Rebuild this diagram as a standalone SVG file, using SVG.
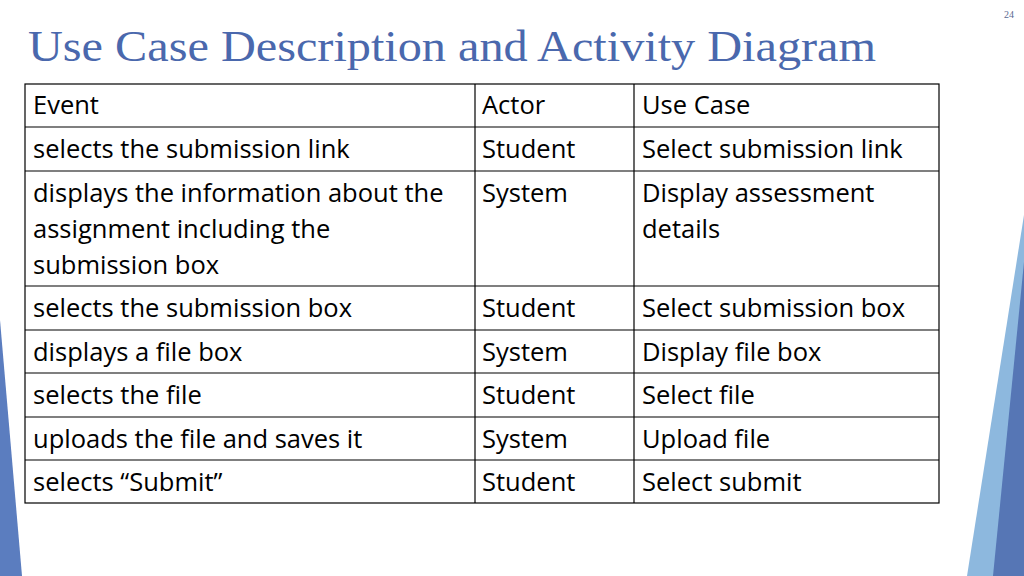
<svg xmlns="http://www.w3.org/2000/svg" width="1024" height="576" viewBox="0 0 1024 576">
<style>
.t{font-family:"Open Sans","Liberation Sans",sans-serif;font-size:25.5px;fill:#000}
.g line{stroke:#000;stroke-width:1.2}
</style>
<rect width="1024" height="576" fill="#fff"/>
<polygon points="0,320 22,576 0,576" fill="#5b7dbf"/>
<polygon points="1024,215 1024,576 967,576" fill="#8db8de"/>
<polygon points="1024,262 1024,576 993,576" fill="#5676b5"/>
<text x="1014" y="18" font-family="Liberation Serif,serif" font-size="10" fill="#5a6a90" text-anchor="end">24</text>
<text x="28" y="61" font-family="Liberation Serif,serif" font-size="44" fill="#4a68ad" textLength="848" lengthAdjust="spacingAndGlyphs">Use Case Description and Activity Diagram</text>
<g id="table" class="g">
<rect x="25" y="84" width="914" height="419" fill="none" stroke="#000" stroke-width="1.2"/>
<line x1="475" y1="84" x2="475" y2="503"/><line x1="634" y1="84" x2="634" y2="503"/>
<line x1="25" y1="127" x2="939" y2="127"/><line x1="25" y1="171" x2="939" y2="171"/>
<line x1="25" y1="286" x2="939" y2="286"/><line x1="25" y1="330" x2="939" y2="330"/>
<line x1="25" y1="373" x2="939" y2="373"/><line x1="25" y1="417" x2="939" y2="417"/>
<line x1="25" y1="460" x2="939" y2="460"/>
</g>
<g id="text" class="t">
<text x="33" y="114" class="t">Event</text><text x="482" y="114" class="t">Actor</text><text x="642" y="114" class="t">Use Case</text>
<text x="33" y="158" class="t">selects the submission link</text><text x="482" y="158" class="t">Student</text><text x="642" y="158" class="t">Select submission link</text>
<text x="33" y="202" class="t">displays the information about the</text><text x="33" y="238" class="t">assignment including the</text><text x="33" y="274" class="t">submission box</text>
<text x="482" y="202" class="t">System</text><text x="642" y="202" class="t">Display assessment</text><text x="642" y="238" class="t">details</text>
<text x="33" y="317" class="t">selects the submission box</text><text x="482" y="317" class="t">Student</text><text x="642" y="317" class="t">Select submission box</text>
<text x="33" y="361" class="t">displays a file box</text><text x="482" y="361" class="t">System</text><text x="642" y="361" class="t">Display file box</text>
<text x="33" y="404" class="t">selects the file</text><text x="482" y="404" class="t">Student</text><text x="642" y="404" class="t">Select file</text>
<text x="33" y="448" class="t">uploads the file and saves it</text><text x="482" y="448" class="t">System</text><text x="642" y="448" class="t">Upload file</text>
<text x="33" y="491" class="t">selects “Submit”</text><text x="482" y="491" class="t">Student</text><text x="642" y="491" class="t">Select submit</text>
</g>
</svg>
